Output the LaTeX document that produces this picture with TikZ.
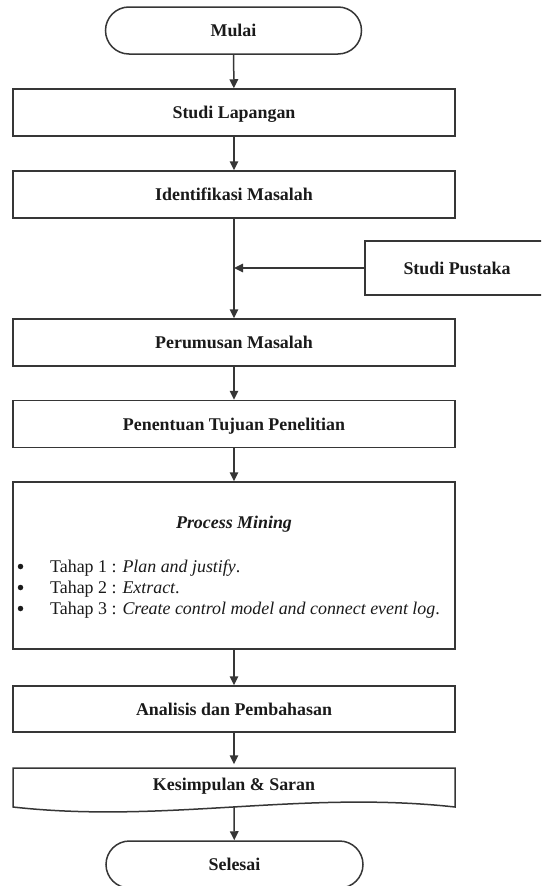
\documentclass[tikz,border=0pt]{standalone}
\usepackage{fontspec}
\setmainfont{Liberation Serif}
\usetikzlibrary{arrows.meta}
\definecolor{linec}{HTML}{363636}
\definecolor{textc}{HTML}{1A1A1A}
\tikzset{
  base/.style={inner sep=0pt, text=textc, font=\fontsize{17.9}{21}\selectfont},
  procbox/.style={base, draw=linec, line width=1.5pt, rectangle, minimum width=442pt, minimum height=47pt, text height=12pt, text depth=0pt, font=\fontsize{17.9}{21}\selectfont\bfseries},
  termbox/.style={procbox, rounded corners=23.5pt, minimum width=256pt},
  plainbox/.style={base, rectangle, text height=12pt, text depth=0pt},
  bulletdot/.style={circle, fill=textc, inner sep=0pt, minimum size=5.5pt},
  flow/.style={draw=linec, line width=1.5pt, -{Triangle[length=9pt,width=8.5pt]}},
  outline/.style={draw=linec, line width=1.5pt}
}
\begin{document}
\begin{tikzpicture}[x=1pt,y=-1pt]
\useasboundingbox (0,0) rectangle (541,886);
\clip (0,0) rectangle (541,886);
\fill[white] (0,0) rectangle (541,886);

\node[termbox] (mulai) at (233.5,30.5) {Mulai};
\node[procbox] (studlap) at (234,112.5) {Studi Lapangan};
\node[procbox] (ident) at (234,194.5) {Identifikasi Masalah};
\node[procbox, minimum width=190pt, minimum height=54pt, anchor=west] (pust) at (364,268) {};
\node[plainbox, font=\fontsize{17.9}{21}\selectfont\bfseries] (pusttxt) at (457,268) {Studi Pustaka};
\node[procbox] (rumus) at (234,342.5) {Perumusan Masalah};
\node[procbox] (tujuan) at (234,424) {Penentuan Tujuan Penelitian};
\node[procbox, minimum height=167pt] (pm) at (234,565.5) {};
\node[plainbox, font=\fontsize{17.9}{21}\selectfont\bfseries\itshape] (pmtitle) at (234,522.5) {Process Mining};
\node[bulletdot] (b1) at (20.5,566.5) {};
\node[bulletdot] (b2) at (20.5,587.5) {};
\node[bulletdot] (b3) at (20.5,608.5) {};
\node[base, anchor=base west] (t1) at (50,572) {Tahap 1 : \textit{Plan and justify}.};
\node[base, anchor=base west] (t2) at (50,593) {Tahap 2 : \textit{Extract}.};
\node[base, anchor=base west] (t3) at (50,614) {Tahap 3 : \textit{Create control model and connect event log}.};
\node[procbox, minimum height=46pt] (anal) at (234,709) {Analisis dan Pembahasan};
\node[plainbox, font=\fontsize{17.9}{21}\selectfont\bfseries, minimum width=442pt, minimum height=39pt] (kes) at (234,784) {Kesimpulan \& Saran};
\draw[outline] (13,807) -- (13,768) -- (455,768) -- (455,807)
  .. controls (300,790) and (165,824) .. (13,807) -- cycle;
\coordinate (kesbot) at (234,807);
\node[termbox, minimum width=257pt] (selesai) at (234.5,864.5) {Selesai};

\coordinate (join) at (234,268);
\draw[flow] (mulai) -- (studlap);
\draw[flow] (studlap) -- (ident);
\draw[flow] (ident) -- (rumus);
\draw[flow] (pust.west) -- (join);
\draw[flow] (rumus) -- (tujuan);
\draw[flow] (tujuan) -- (pm);
\draw[flow] (pm) -- (anal);
\draw[flow] (anal) -- (kes.north);
\draw[flow] (kesbot) -- (selesai);
\end{tikzpicture}
\end{document}
